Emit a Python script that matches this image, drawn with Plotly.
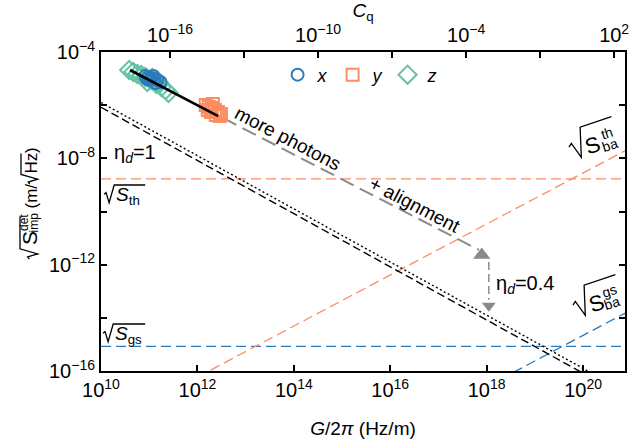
import math
import plotly.graph_objects as go

# ---------------- data ----------------
# measured points (G/2pi in Hz/m, sqrt(S_imp^det) in m/sqrt(Hz))
G_x = [8.3e10, 9.6e10, 1.11e11, 1.28e11, 1.48e11, 1.71e11, 1.06e11, 1.34e11, 9.1e10, 1.22e11]
S_x = [1.25e-5, 1.15e-5, 1.05e-5, 9.7e-6, 8.9e-6, 7.4e-6, 8.9e-6, 6.8e-6, 9.7e-6, 1.25e-5]
G_y = [1.49e12, 1.72e12, 1.99e12, 2.3e12, 2.66e12, 3.07e12, 1.9e12, 2.41e12, 1.64e12, 2.09e12, 2.92e12]
S_y = [1.02e-6, 8.6e-7, 7.9e-7, 6.6e-7, 5.5e-7, 4.7e-7, 5.5e-7, 4.3e-7, 6.6e-7, 1.11e-6, 3.9e-7]
G_z = [3.85e10, 4.67e10, 5.65e10, 6.86e10, 8.3e10, 1.06e11, 1.41e11, 1.79e11, 2.18e11, 2.51e11, 1.16e11, 1.55e11, 9.1e10]
S_z = [2.1e-5, 1.77e-5, 1.49e-5, 1.36e-5, 1.15e-5, 8.9e-6, 6.3e-6, 4.8e-6, 3.7e-6, 2.9e-6, 1.05e-5, 7.4e-6, 7.4e-6]

# fit through the data
G_fit = [4.0e10, 2.7e12]
S_fit = [2.1e-5, 3.9e-7]

# theory curves
G_theory = [1e10, 1e21]
S_imp_dotted = [1.26e-6, 1.26e-17]
S_imp_dashed = [8.3e-7, 8.3e-18]
S_th_level = [1.7e-9, 1.7e-9]
S_gs_level = [8.5e-16, 8.5e-16]
G_ba_th = [1e12, 1e21]
S_ba_th = [5.9e-17, 2.57e-8]
G_ba_gs = [1e18, 1e21]
S_ba_gs = [2.6e-17, 2.0e-14]

# arrows
G_arrow = [3.38e12, 6.9e17]
S_arrow = [3.3e-7, 3.6e-12]
G_head_up = [7.9e17]
S_head_up = [2.33e-12]
G_eta = [1.11e18, 1.11e18]
S_eta = [1.27e-12, 4.75e-14]
G_head_dn = [1.11e18]
S_head_dn = [2.83e-14]

# ticks
x_tick_vals = [1e10, 1e12, 1e14, 1e16, 1e18, 1e20]
x_tick_text = ["10<sup>10</sup>", "10<sup>12</sup>", "10<sup>14</sup>", "10<sup>16</sup>", "10<sup>18</sup>", "10<sup>20</sup>"]
y_tick_vals = [1e-16, 1e-14, 1e-12, 1e-10, 1e-8, 1e-6, 1e-4]
y_tick_text = ["10<sup>\u221216</sup>", "", "10<sup>\u221212</sup>", "", "10<sup>\u22128</sup>", "", "10<sup>\u22124</sup>"]
cq_tick_vals = [1e-16, 1e-13, 1e-10, 1e-7, 1e-4, 1e-1, 1e2]
cq_tick_text = ["10<sup>\u221216</sup>", "", "10<sup>\u221210</sup>", "", "10<sup>\u22124</sup>", "", "10<sup>2</sup>"]

# ---------------- styling ----------------
BLUE = "#2b7bba"
ORANGE = "#fc8d62"
GREEN = "#66c2a5"
GRAY = "#8a8a8a"
FONT = "Arial, Liberation Sans, sans-serif"

W_FIG, H_FIG = 633, 441
L, R, T, B = 101, 625, 52, 371


def pp(X, Y):
    return (X - L) / (R - L), (B - Y) / (B - T)


def radical(ax, ay, H, W, theta=0.0, width=1.3):
    pts = [(0, 0.45 * H), (0.12 * H, 0.55 * H), (0.3 * H, -0.04 * H), (0.6 * H, H), (0.6 * H + W, H)]
    c, s = math.cos(math.radians(theta)), math.sin(math.radians(theta))
    segs = []
    for u, v in pts:
        X = ax + u * c - v * s
        Y = ay - u * s - v * c
        xp, yp = pp(X, Y)
        segs.append(f"{xp:.5f},{yp:.5f}")
    return dict(type="path", xref="paper", yref="paper", path="M" + " L".join(segs),
                line=dict(color="black", width=width))


fig = go.Figure()

line_kw = dict(mode="lines", showlegend=False, hoverinfo="skip")
fig.add_trace(go.Scatter(x=G_theory, y=S_th_level, line=dict(color=ORANGE, width=1.3, dash="10px,5px"), **line_kw))
fig.add_trace(go.Scatter(x=G_theory, y=S_gs_level, line=dict(color=BLUE, width=1.3, dash="10px,5px"), **line_kw))
fig.add_trace(go.Scatter(x=G_ba_th, y=S_ba_th, line=dict(color=ORANGE, width=1.3, dash="10px,5px"), **line_kw))
fig.add_trace(go.Scatter(x=G_ba_gs, y=S_ba_gs, line=dict(color=BLUE, width=1.3, dash="10px,5px"), **line_kw))
fig.add_trace(go.Scatter(x=G_theory, y=S_imp_dotted, line=dict(color="black", width=1.4, dash="2px,2.5px"), **line_kw))
fig.add_trace(go.Scatter(x=G_theory, y=S_imp_dashed, line=dict(color="black", width=1.4, dash="8px,4px"), **line_kw))

fig.add_trace(go.Scatter(x=G_arrow, y=S_arrow, line=dict(color=GRAY, width=2, dash="15px,7px"), **line_kw))
fig.add_trace(go.Scatter(x=G_eta, y=S_eta, line=dict(color=GRAY, width=1.5, dash="8px,4px"), **line_kw))
fig.add_trace(go.Scatter(x=G_head_up, y=S_head_up, mode="markers", showlegend=False, hoverinfo="skip",
                         marker=dict(symbol="triangle-up", size=15, color=GRAY)))
fig.add_trace(go.Scatter(x=G_head_dn, y=S_head_dn, mode="markers", showlegend=False, hoverinfo="skip",
                         marker=dict(symbol="triangle-down", size=12, color=GRAY)))

fig.add_trace(go.Scatter(x=G_z, y=S_z, mode="markers", name="<i>z</i>", legendrank=3,
                         marker=dict(symbol="diamond-open", size=14, color=GREEN, line=dict(width=2))))
fig.add_trace(go.Scatter(x=G_x, y=S_x, mode="markers", name="<i>x</i>", legendrank=1,
                         marker=dict(symbol="circle-open", size=12, color=BLUE, line=dict(width=2))))
fig.add_trace(go.Scatter(x=G_y, y=S_y, mode="markers", name="<i>y</i>", legendrank=2,
                         marker=dict(symbol="square-open", size=12, color=ORANGE, line=dict(width=2))))
fig.add_trace(go.Scatter(x=G_fit, y=S_fit, line=dict(color="black", width=2.6), **line_kw))
# empty trace so that the top C_q axis is drawn
fig.add_trace(go.Scatter(x=[None], y=[None], xaxis="x2", yaxis="y", mode="markers",
                         showlegend=False, hoverinfo="skip"))

axis_common = dict(showgrid=False, zeroline=False, showline=True, linecolor="black", linewidth=2,
                   ticks="inside", ticklen=6, tickwidth=1.5, tickcolor="black", automargin=False,
                   tickfont=dict(size=20, family=FONT, color="black"))

fig.update_layout(
    width=W_FIG, height=H_FIG,
    margin=dict(l=L, r=W_FIG - R, t=T, b=H_FIG - B),
    paper_bgcolor="white", plot_bgcolor="white",
    font=dict(family=FONT, size=18, color="black"),
    xaxis=dict(type="log", range=[10, 20.87], tickvals=x_tick_vals, ticktext=x_tick_text,
               title=dict(text="<i>G</i>/2<i>\u03c0</i> (Hz/m)", font=dict(size=19), standoff=22),
               **axis_common),
    xaxis2=dict(type="log", range=[-18.8, 2.44], overlaying="x", side="top", anchor="y",
                tickvals=cq_tick_vals, ticktext=cq_tick_text,
                title=dict(text="<i>C</i><sub>q</sub>", font=dict(size=19), standoff=2),
                **axis_common),
    yaxis=dict(type="log", range=[-16, -4], tickvals=y_tick_vals, ticktext=y_tick_text, mirror="ticks",
               **axis_common),
    legend=dict(orientation="h", x=0.337, y=0.928, xanchor="left", yanchor="middle",
                bgcolor="rgba(0,0,0,0)", font=dict(size=18), entrywidth=10, entrywidthmode="pixels"),
    showlegend=True,
)


def ann(X, Y, text, size=18, angle=0, xanchor="center", yanchor="middle"):
    xp, yp = pp(X, Y)
    fig.add_annotation(x=xp, y=yp, xref="paper", yref="paper", text=text, showarrow=False,
                       font=dict(size=size, family=FONT, color="black"), textangle=angle,
                       xanchor=xanchor, yanchor=yanchor)


# in-plot labels
ann(288, 138, "more photons", 19, 27.5)
ann(414, 205, "+ alignment", 19, 27.5)
ann(112, 153, "\u03b7<sub><i>d</i></sub>=1", 20, xanchor="left")
ann(494, 284, "\u03b7<sub><i>d</i></sub>=0.4", 20, xanchor="left")

# sqrt(S_th)
ann(114, 196, "<i>S</i><sub>th</sub>", 19, xanchor="left")
fig.add_shape(radical(104, 202, 17, 31))
# sqrt(S_gs)
ann(113, 335, "<i>S</i><sub>gs</sub>", 19, xanchor="left")
fig.add_shape(radical(103, 341, 17, 32))

# sqrt(S_ba^th), tilted
TH = 18.4
ann(592, 145, "S", 22, -TH)
ann(607, 133, "th", 14, -TH)
ann(610, 145, "ba", 14, -TH)
fig.add_shape(radical(573, 159, 28, 33, TH))
# sqrt(S_ba^gs), tilted
ann(596, 303, "S", 22, -TH)
ann(609, 291, "gs", 14, -TH)
ann(612, 303, "ba", 14, -TH)
fig.add_shape(radical(577, 317, 28, 33, TH))

# y-axis title: sqrt(S_imp^det) (m/sqrt(Hz))
ann(30, 238, "S", 21, -90)
ann(23.5, 222.5, "det", 12, -90)
ann(33, 222.5, "imp", 12, -90)
fig.add_shape(radical(37, 259, 17, 32, 90))
ann(31, 196.5, "(m/", 17, -90)
fig.add_shape(radical(37, 184, 16, 21, 90))
ann(31, 163.5, "Hz", 17, -90)
ann(31, 150, ")", 17, -90)

fig.write_html("out.html")
